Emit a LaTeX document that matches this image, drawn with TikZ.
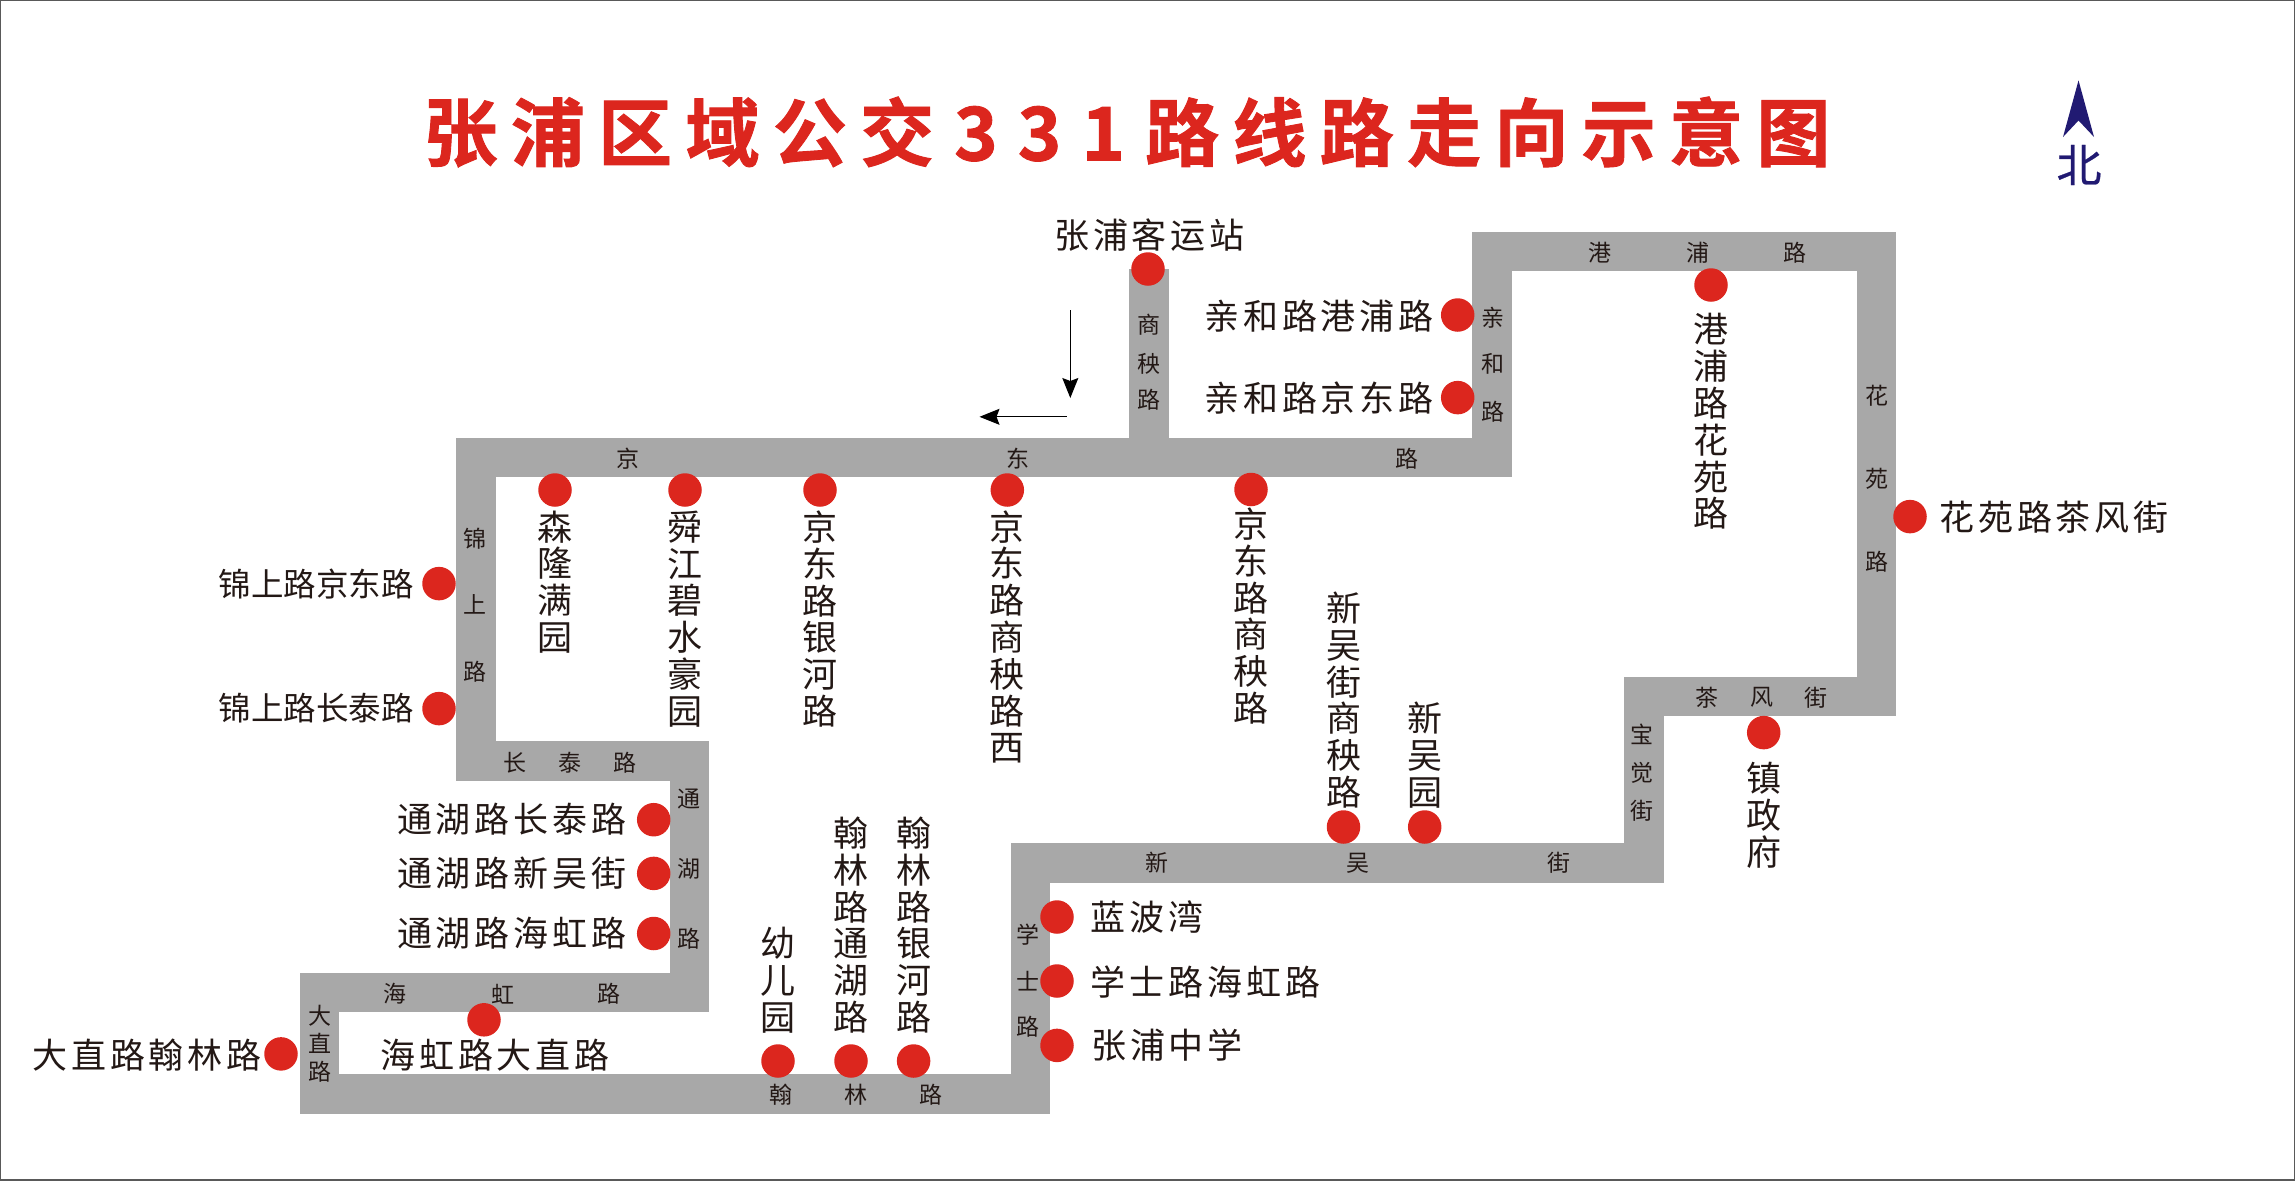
\documentclass[tikz,border=0pt]{standalone}
\usepackage{fontspec}
\usepackage{xcolor}
\usetikzlibrary{arrows.meta}
\newfontfamily\cjk{Noto Sans CJK SC}
\newfontfamily\cjkwide[LetterSpace=11]{Noto Sans CJK SC}
\newfontfamily\cjktitle[LetterSpace=18,FakeBold=1.2]{Noto Sans CJK SC Bold}
\newfontfamily\cjknorth[FakeBold=0.6]{Noto Sans CJK SC}
\definecolor{roadgray}{HTML}{A8A8A8}
\definecolor{stopred}{HTML}{DC261E}
\definecolor{northblue}{HTML}{211A72}
\definecolor{inkblack}{HTML}{231815}
\tikzset{
  road/.style={roadgray,line width=39.4pt,miter limit=10},
  stop/.style={circle,fill=stopred,minimum size=33.5pt,inner sep=0pt},
  roadname/.style={inkblack,font=\cjk\fontsize{23}{23}\selectfont,inner sep=0pt},
  stopname/.style={inkblack,font=\cjkwide\fontsize{35}{36.8}\selectfont,inner sep=0pt,align=center},
  stopnarrow/.style={inkblack,font=\cjk\fontsize{32.5}{32.5}\selectfont,inner sep=0pt},
  turnarrow/.style={line width=1pt,color=black,-{Stealth[length=20pt,width=16pt,inset=3pt]}}
}
\begin{document}
\begin{tikzpicture}[x=1pt,y=-1pt]
    \useasboundingbox (0,0) rectangle (2296,1181);
    \draw [line width=1.5pt, black!65] (0.7,0.7) rectangle (2294.5,1180);

    \node [font=\cjktitle\fontsize{74}{74}\selectfont, text=stopred, inner sep=0pt] (title) at (1127,132)
        {张浦区域公交\hspace{20pt}3\hspace{20pt}3\hspace{20pt}1\hspace{20pt}路线路走向示意图};

    \fill [northblue] (2078.5,80.4) -- (2094,137) -- (2078.5,120.5) -- (2063,137) -- cycle;
    \node [font=\cjknorth\fontsize{45}{45}\selectfont, text=northblue, inner sep=0pt] (north) at (2079,165) {北};

    \coordinate (downa) at (1070.3,310);
    \coordinate (downb) at (1070.3,398);
    \coordinate (lefta) at (1066.6,416.8);
    \coordinate (leftb) at (979.5,416.8);
    \draw [turnarrow] (downa) -- (downb);
    \draw [turnarrow] (lefta) -- (leftb);

    \draw [road] (475.8,457.5) -- (1492,457.5) -- (1492,251.2) -- (1876.3,251.2) -- (1876.3,696.3)
        -- (1644,696.3) -- (1644,862.8) -- (1030.4,862.8) -- (1030.4,1094.1) -- (319.2,1094.1)
        -- (319.2,992.5) -- (689.2,992.5) -- (689.2,761.1) -- (475.8,761.1) -- cycle;
    \draw [road] (1149,269) -- (1149,457.5);

    \node [roadname] (jing) at (628,459) {京};
    \node [roadname] (dong) at (1017.6,459) {东};
    \node [roadname] (jdlu) at (1407,459) {路};
    \node [roadname] (shang) at (1149,325) {商};
    \node [roadname] (yang) at (1149,363.6) {秧};
    \node [roadname] (sylu) at (1149,400) {路};
    \node [roadname] (qin) at (1492.8,317.6) {亲};
    \node [roadname] (he) at (1492.8,364) {和};
    \node [roadname] (qhlu) at (1492.8,411.4) {路};
    \node [roadname] (gang) at (1599.7,252.6) {港};
    \node [roadname] (pu) at (1697.8,252.6) {浦};
    \node [roadname] (gplu) at (1795,252.6) {路};
    \node [roadname] (hua) at (1877,396) {花};
    \node [roadname] (yuan) at (1877,478.4) {苑};
    \node [roadname] (hylu) at (1877,561.4) {路};
    \node [roadname] (jin) at (475,538.8) {锦};
    \node [roadname] (shangb) at (475,604.6) {上};
    \node [roadname] (jslu) at (475,672) {路};
    \node [roadname] (chang) at (514.6,762.3) {长};
    \node [roadname] (tai) at (570,762.3) {泰};
    \node [roadname] (ctlu) at (625,762.3) {路};
    \node [roadname] (tong) at (689,799) {通};
    \node [roadname] (hu) at (689,868.6) {湖};
    \node [roadname] (thlu) at (689,939) {路};
    \node [roadname] (hai) at (395,993.9) {海};
    \node [roadname] (hong) at (503,993.9) {虹};
    \node [roadname] (hhlu) at (609,993.9) {路};
    \node [roadname] (da) at (320,1015.7) {大};
    \node [roadname] (zhi) at (320,1043.5) {直};
    \node [roadname] (dzlu) at (320,1071.3) {路};
    \node [roadname] (han) at (781,1094.6) {翰};
    \node [roadname] (lin) at (855.8,1094.6) {林};
    \node [roadname] (hllu) at (930.5,1094.6) {路};
    \node [roadname] (xue) at (1027.8,934.6) {学};
    \node [roadname] (shi) at (1027.8,980.9) {士};
    \node [roadname] (xslu) at (1027.8,1026.8) {路};
    \node [roadname] (xin) at (1156.6,863) {新};
    \node [roadname] (wu) at (1358,863) {吴};
    \node [roadname] (xwjie) at (1559.4,863) {街};
    \node [roadname] (bao) at (1642,734) {宝};
    \node [roadname] (jue) at (1642,772.7) {觉};
    \node [roadname] (bjjie) at (1642,811) {街};
    \node [roadname] (cha) at (1707.3,697.4) {茶};
    \node [roadname] (feng) at (1762,697.4) {风};
    \node [roadname] (cfjie) at (1815.7,697.4) {街};

    \node [stop] (keyun) at (1148,269) {};
    \node [stop] (senlong) at (555,490) {};
    \node [stop] (shunjiang) at (685,490) {};
    \node [stop] (yinhe) at (820,490) {};
    \node [stop] (shangxi) at (1007.3,490) {};
    \node [stop] (jdshang) at (1251,489.5) {};
    \node [stop] (jinjd) at (439,583.6) {};
    \node [stop] (jinct) at (439,708.6) {};
    \node [stop] (qingp) at (1457.7,315) {};
    \node [stop] (qinjd) at (1457.7,397.6) {};
    \node [stop] (ganghua) at (1711,285) {};
    \node [stop] (huacha) at (1910,516.6) {};
    \node [stop] (zhenfu) at (1763.7,732.6) {};
    \node [stop] (xwshang) at (1343.5,827) {};
    \node [stop] (xinwu) at (1424.7,827) {};
    \node [stop] (lanbo) at (1057,917) {};
    \node [stop] (xuehai) at (1057,981) {};
    \node [stop] (zhongxue) at (1057,1045.4) {};
    \node [stop] (youer) at (778,1061) {};
    \node [stop] (hantong) at (851,1061) {};
    \node [stop] (hanyin) at (913.6,1061) {};
    \node [stop] (haida) at (484,1019.8) {};
    \node [stop] (dahan) at (281,1053.9) {};
    \node [stop] (tongct) at (653.7,819.7) {};
    \node [stop] (tongxw) at (653.7,873.4) {};
    \node [stop] (tonghh) at (653.7,933.5) {};

    \node [stopname] (keyun-t) at (1149.5,235.5) {张浦客运站};
    \node [stopname] (senlong-t) at (555,582) {森\\隆\\满\\园};
    \node [stopname] (shunjiang-t) at (685,619) {舜\\江\\碧\\水\\豪\\园};
    \node [stopname] (yinhe-t) at (820,619) {京\\东\\路\\银\\河\\路};
    \node [stopname] (shangxi-t) at (1007.3,637) {京\\东\\路\\商\\秧\\路\\西};
    \node [stopname] (jdshang-t) at (1251,616) {京\\东\\路\\商\\秧\\路};
    \node [stopnarrow] (jinjd-t) at (316,583.6) {锦上路京东路};
    \node [stopnarrow] (jinct-t) at (316,708.6) {锦上路长泰路};
    \node [stopname] (qingp-t) at (1319,315.7) {亲和路港浦路};
    \node [stopname] (qinjd-t) at (1319,398) {亲和路京东路};
    \node [stopname] (ganghua-t) at (1711,421.5) {港\\浦\\路\\花\\苑\\路};
    \node [stopname] (huacha-t) at (2054,517.4) {花苑路茶风街};
    \node [stopname] (zhenfu-t) at (1763.7,815) {镇\\政\\府};
    \node [stopname] (xwshang-t) at (1343.5,700) {新\\吴\\街\\商\\秧\\路};
    \node [stopname] (xinwu-t) at (1424.7,755) {新\\吴\\园};
    \node [stopname] (lanbo-t) at (1147,917) {蓝波湾};
    \node [stopname] (xuehai-t) at (1205.5,981.6) {学士路海虹路};
    \node [stopname] (zhongxue-t) at (1167,1045.4) {张浦中学};
    \node [stopname] (youer-t) at (778,980) {幼\\儿\\园};
    \node [stopname] (hantong-t) at (851,925) {翰\\林\\路\\通\\湖\\路};
    \node [stopname] (hanyin-t) at (913.6,925) {翰\\林\\路\\银\\河\\路};
    \node [stopname] (haida-t) at (495,1055) {海虹路大直路};
    \node [stopname] (dahan-t) at (147,1055) {大直路翰林路};
    \node [stopname] (tongct-t) at (511.7,819.7) {通湖路长泰路};
    \node [stopname] (tongxw-t) at (511.7,873.4) {通湖路新吴街};
    \node [stopname] (tonghh-t) at (511.7,933.5) {通湖路海虹路};
\end{tikzpicture}
\end{document}
